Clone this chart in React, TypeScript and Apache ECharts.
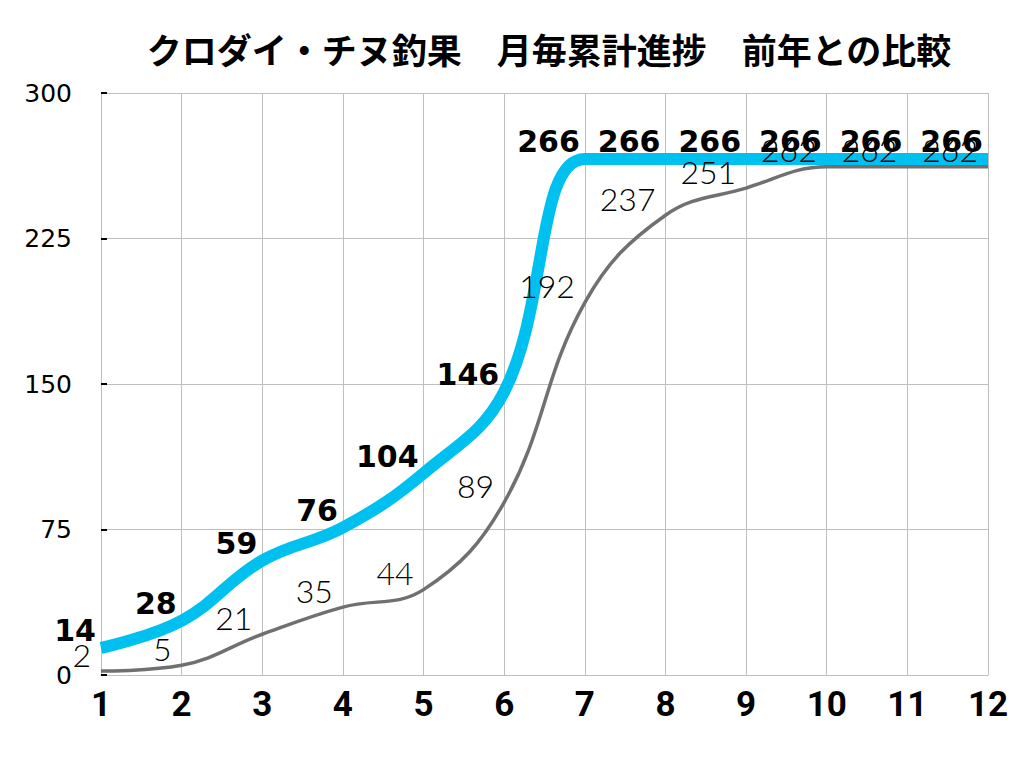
import React, { useEffect, useRef } from "react";
import * as echarts from "echarts";

const months = ["1", "2", "3", "4", "5", "6", "7", "8", "9", "10", "11", "12"];
const thisYear = [14, 28, 59, 76, 104, 146, 266, 266, 266, 266, 266, 266];
const lastYear = [2, 5, 21, 35, 44, 89, 192, 237, 251, 262, 262, 262];
const yTicks = { min: 0, max: 300, interval: 75 };

const FONT = '"Noto Sans CJK JP", "Noto Sans", sans-serif';

export default function App() {
  const ref = useRef<HTMLDivElement>(null);
  useEffect(() => {
    if (!ref.current) return;
    const chart = echarts.init(ref.current, undefined, { renderer: "svg" });
    chart.setOption({
      animation: false,
      backgroundColor: "#ffffff",
      textStyle: { fontFamily: FONT },
      title: {
        text: "クロダイ・チヌ釣果　月毎累計進捗　前年との比較",
        left: 544,
        textAlign: "center",
        top: 26,
        textStyle: { fontFamily: FONT, fontSize: 35, fontWeight: "bold", color: "#000" },
      },
      grid: { left: 101, right: 35, top: 93, bottom: 96, containLabel: false },
      xAxis: {
        type: "category",
        data: months,
        boundaryGap: false,
        axisLine: { lineStyle: { color: "#bfbfbf", width: 1 } },
        axisTick: { show: false },
        axisLabel: { color: "#000", fontSize: 35, fontWeight: "bold", margin: 12, fontFamily: "Roboto, sans-serif" },
        splitLine: { show: true, lineStyle: { color: "#bfbfbf", width: 1 } },
      },
      yAxis: {
        type: "value",
        min: yTicks.min,
        max: yTicks.max,
        interval: yTicks.interval,
        axisLine: { show: true, lineStyle: { color: "#bfbfbf", width: 1 } },
        axisTick: { show: true, inside: true, length: 6, lineStyle: { color: "#000", width: 2 } },
        axisLabel: { color: "#000", fontSize: 25, margin: 29, fontFamily: '"DejaVu Sans", sans-serif' },
        splitLine: { show: true, lineStyle: { color: "#bfbfbf", width: 1 } },
      },
      series: [
        {
          name: "今年",
          type: "line",
          data: thisYear,
          smooth: 0.4,
          symbol: "circle",
          symbolSize: 0.01,
          lineStyle: { color: "#00C0F0", width: 12 },
          itemStyle: { color: "#00C0F0" },
          label: {
            show: true,
            position: "left",
            distance: 5,
            offset: [0, -17],
            color: "#000",
            fontSize: 30,
            fontWeight: "bold",
            fontFamily: '"DejaVu Sans", sans-serif',
          },
          z: 2,
        },
        {
          name: "前年",
          type: "line",
          data: lastYear,
          smooth: 0.4,
          symbol: "circle",
          symbolSize: 0.01,
          lineStyle: { color: "#707070", width: 3.5 },
          itemStyle: { color: "#707070" },
          label: {
            show: true,
            position: "left",
            distance: 10,
            offset: [0, -17],
            color: "#000",
            fontSize: 32,
            fontWeight: 300,
            fontFamily: "Lato, sans-serif",
          },
          z: 3,
        },
      ],
    });
    return () => chart.dispose();
  }, []);
  return (
    <div
      ref={ref}
      style={{ position: "fixed", left: 0, top: 0, width: 1023, height: 771, background: "#fff" }}
    />
  );
}
